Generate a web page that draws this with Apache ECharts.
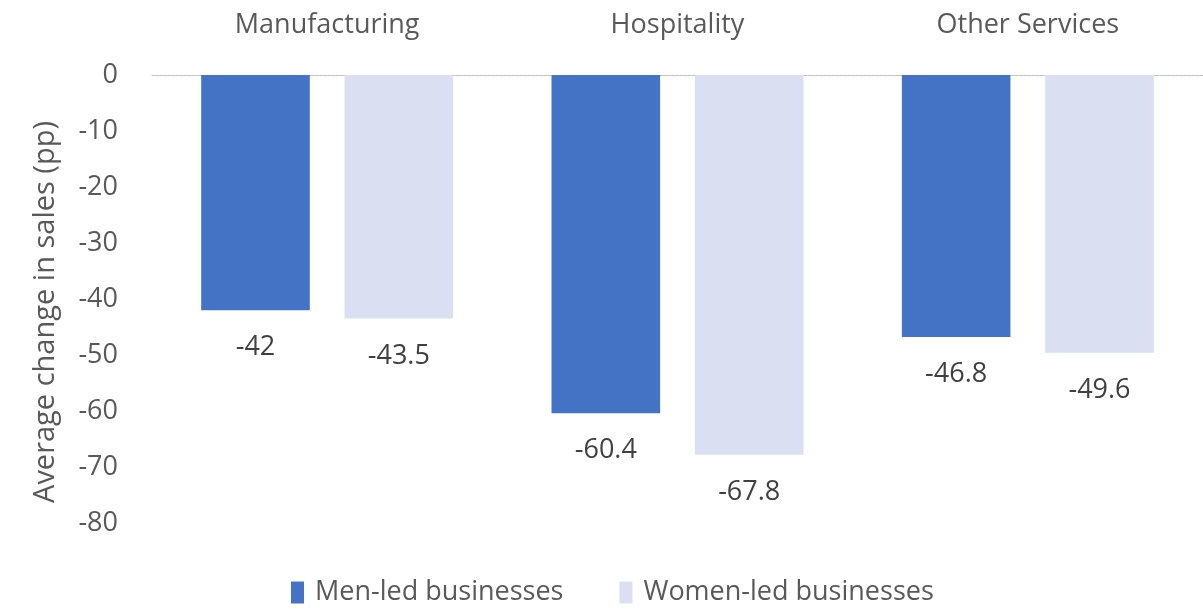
<!DOCTYPE html>
<html>
<head>
<meta charset="utf-8">
<script src="https://cdn.jsdelivr.net/npm/echarts@6/dist/echarts.min.js"></script>
<style>
  html, body { margin: 0; padding: 0; background: #fff; }
  #chart { width: 1203px; height: 611px; }
</style>
</head>
<body>
<div id="chart"></div>
<script>
// Sectors and average sales change by business owner gender
const categories = ['Manufacturing', 'Hospitality', 'Other Services'];
const menLed = [-42, -60.4, -46.8];
const womenLed = [-43.5, -67.8, -49.6];
const seriesNames = ['Men-led businesses', 'Women-led businesses'];
const yTicks = { min: -80, max: 0, interval: 10 };

const FONT = '"Open Sans", Lato, sans-serif';
const TEXT = '#595959';

const chart = echarts.init(document.getElementById('chart'));

const valueLabel = {
  show: true,
  position: 'bottom',
  distance: 24,
  color: '#404040',
  fontFamily: FONT,
  fontSize: 27
};

chart.setOption({
  animation: false,
  textStyle: { fontFamily: FONT },
  grid: { left: 152, right: 0, top: 75, bottom: 88 },
  legend: {
    bottom: 0,
    left: 286,
    itemWidth: 13,
    itemHeight: 22,
    itemGap: 56,
    icon: 'rect',
    textStyle: { color: TEXT, fontSize: 27, fontFamily: FONT, padding: [0, 0, 0, 6] },
    data: seriesNames
  },
  xAxis: {
    type: 'category',
    position: 'top',
    data: categories,
    axisTick: { show: false },
    axisLine: { show: true, lineStyle: { color: '#BFBFBF', type: [3, 1], width: 1 } },
    axisLabel: { color: TEXT, fontSize: 27, margin: 36, fontFamily: FONT }
  },
  yAxis: {
    type: 'value',
    min: yTicks.min,
    max: yTicks.max,
    interval: yTicks.interval,
    name: 'Average change in sales (pp)',
    nameLocation: 'middle',
    nameGap: 92,
    nameRotate: 90,
    nameTextStyle: { color: TEXT, fontSize: 29, fontFamily: FONT, padding: [0, 26, 0, 0] },
    splitLine: { show: false },
    axisLine: { show: false },
    axisTick: { show: false },
    axisLabel: { color: TEXT, fontSize: 27, margin: 34, fontFamily: FONT }
  },
  series: [
    {
      name: seriesNames[0],
      type: 'bar',
      data: menLed,
      barWidth: '31%',
      barGap: '32%',
      itemStyle: { color: '#4472C4' },
      label: valueLabel
    },
    {
      name: seriesNames[1],
      type: 'bar',
      data: womenLed,
      barWidth: '31%',
      itemStyle: { color: '#DAE0F2' },
      label: valueLabel
    }
  ]
});
</script>
</body>
</html>
